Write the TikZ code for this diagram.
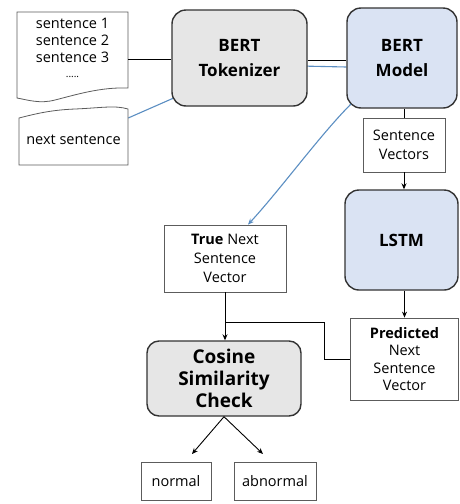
\documentclass[tikz,border=0pt]{standalone}
\usepackage{fontspec}
\setmainfont{Open Sans}
\usetikzlibrary{arrows.meta,backgrounds}
\definecolor{bluefill}{HTML}{DAE3F3}
\definecolor{grayfill}{HTML}{E6E6E6}
\definecolor{bline}{HTML}{5B8EC2}
\definecolor{edge}{HTML}{333333}
\tikzset{
  rbox/.style={draw=edge, line width=1.4pt, rounded corners=14pt, align=center, inner sep=0pt},
  graybox/.style={rbox, fill=grayfill},
  bluebox/.style={rbox, fill=bluefill},
  tbox/.style={draw=edge!80, line width=0.8pt, align=center, inner sep=0pt, fill=white},
  small/.style={font=\fontsize{14.5}{19}\selectfont},
  big/.style={font=\fontsize{17}{25}\selectfont\bfseries},
  conn/.style={draw=black, line width=0.9pt},
  arr/.style={conn, -{Stealth[length=6pt,width=5pt]}},
  bconn/.style={draw=bline, line width=1.1pt}
}
\begin{document}
\begin{tikzpicture}[x=1pt,y=-1pt]
\useasboundingbox (0,0) rectangle (459,504);
% documents
\draw[edge!80, line width=0.8pt, fill=white] (17,12) -- (128,12) -- (128,88)
  .. controls (100,87) and (75,95) .. (55,100) .. controls (40,104) and (28,100) .. (17,98) -- cycle;
\node[small, font=\fontsize{14.5}{17}\selectfont, align=center, inner sep=0pt, minimum width=111pt, minimum height=80pt] (docs) at (72.5,48)
  {sentence 1\\ sentence 2\\ sentence 3\\[-2pt] {\fontsize{10}{10}\selectfont .....}};
\draw[edge!80, line width=0.8pt, fill=white] (19,118)
  .. controls (35,114) and (50,110) .. (75,109) .. controls (100,108) and (115,105) .. (128,109)
  -- (128,165) -- (19,165) -- cycle;
\node[small, inner sep=0pt, minimum width=109pt, minimum height=46pt] (next) at (73.5,140) {next sentence};
% boxes
\node[graybox, big, minimum width=135pt, minimum height=96pt] (tok) at (239.5,58) {BERT\\Tokenizer};
\node[bluebox, big, minimum width=110pt, minimum height=100pt] (model) at (402,58) {BERT\\Model};
\node[tbox, small, minimum width=82pt, minimum height=54pt] (sv) at (404,145) {Sentence\\Vectors};
\node[bluebox, big, minimum width=113pt, minimum height=100pt] (lstm) at (401.5,240) {LSTM};
\node[tbox, small, font=\fontsize{14.5}{17.5}\selectfont, minimum width=108pt, minimum height=82pt] (pred) at (404.5,359)
  {\textbf{Predicted}\\Next\\Sentence\\Vector};
\node[tbox, small, minimum width=122pt, minimum height=67pt] (true) at (225,258.5)
  {\textbf{True} Next\\Sentence\\Vector};
\node[graybox, font=\fontsize{19}{22}\selectfont\bfseries, minimum width=154pt, minimum height=75pt, rounded corners=12pt] (cos) at (224,378.5)
  {Cosine\\Similarity\\Check};
\node[tbox, small, minimum width=70pt, minimum height=38pt] (normal) at (176,481) {normal};
\node[tbox, small, minimum width=82pt, minimum height=38pt] (abnormal) at (275,481) {abnormal};
% blue connector behind tokenizer
\begin{scope}[on background layer]
\draw[bconn] (next.east |- 0,118) -- (176,97) -- (300,66) -- (model.west |- 0,67);
\end{scope}
% black connectors
\draw[conn] (docs.east |- 0,59) -- (tok.west |- 0,59);
\draw[conn] (tok.east |- 0,60) -- (model.west |- 0,60);
\draw[conn] (model.south -| sv.north) -- (sv.north);
\draw[arr] (sv.south) -- (lstm.north -| sv.south);
\draw[arr] (lstm.south -| pred.north) -- (pred.north);
\draw[arr] (true.south) -- (cos.north -| true.south);
\coordinate (jn) at (225,322);
\draw[conn] (pred.west) -- ++(-26,0) |- (jn);
\draw[bconn, -{Stealth[length=6pt,width=5pt]}] (351,104) .. controls (320,135) and (280,190) .. (true.north -| 248,0);
\coordinate (nt) at (192,454);
\coordinate (at) at (263,454);
\draw[arr] (cos.south) -- (nt);
\draw[arr] (cos.south) -- (at);
\end{tikzpicture}
\end{document}
